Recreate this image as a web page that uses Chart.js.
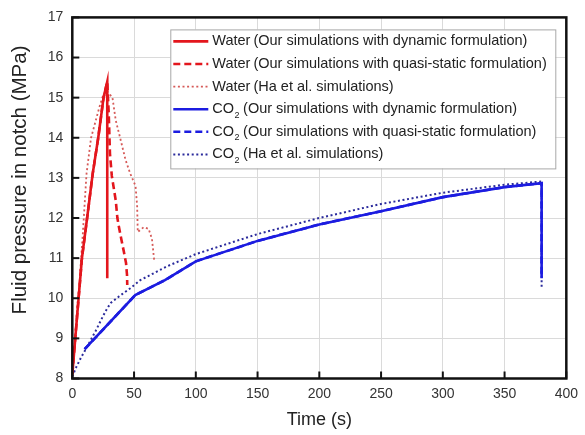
<!DOCTYPE html>
<html>
<head>
<meta charset="utf-8">
<script src="https://cdn.jsdelivr.net/npm/chart.js@4.4.1/dist/chart.umd.min.js"></script>
<style>
  html, body { margin: 0; padding: 0; background: #fff; }
</style>
</head>
<body>
<canvas id="chart" width="585" height="435"></canvas>
<script>
// Fluid pressure in notch vs time — water and CO2 cases

const xTicks = [0, 50, 100, 150, 200, 250, 300, 350, 400];
const yTicks = [8, 9, 10, 11, 12, 13, 14, 15, 16, 17];

// Water, our simulations (dynamic)
const waterDynTime = [0, 2.4, 5.1, 7.8, 12, 16.5, 21, 25.3, 28.3, 28.3];
const waterDynP = [8.1, 9.0, 10.0, 11.0, 12.0, 13.1, 14.0, 15.0, 15.4, 10.5];

// Water, our simulations (quasi-static): same rise, slower drop
const waterQsTime = [0, 2.4, 5.1, 7.8, 12, 16.5, 21, 25.3, 28.3, 29.5, 30.5, 32, 35.2, 36.5, 37.8, 39.7, 41.8, 43.5, 44.3, 44.5];
const waterQsP = [8.1, 9.0, 10.0, 11.0, 12.0, 13.1, 14.0, 15.0, 15.4, 14.6, 13.6, 13.05, 12.43, 12.0, 11.77, 11.47, 11.15, 10.88, 10.58, 10.33];

// Water, Ha et al.
const waterHaTime = [0, 2, 4, 5.9, 6.7, 8.5, 9.9, 11.5, 15.2, 21.9, 25.3, 28, 32.5, 35.2, 39.2, 43.1, 47, 51.2, 52.5, 53, 57.8, 61.8, 64.5, 66.3];
const waterHaP = [8.05, 8.9, 9.8, 10.4, 10.8, 11.6, 12.3, 13.1, 14.0, 14.76, 15.09, 15.17, 15.0, 14.43, 13.94, 13.45, 13.1, 12.8, 12.3, 11.65, 11.77, 11.73, 11.48, 10.95];

// CO2, our simulations (dynamic and quasi-static overlap)
const co2DynTime = [10, 51, 75, 100, 150, 200, 250, 300, 350, 380, 380];
const co2DynP = [8.73, 10.08, 10.45, 10.92, 11.43, 11.84, 12.17, 12.52, 12.77, 12.87, 10.5];
const co2QsTime = co2DynTime;
const co2QsP = co2DynP;

// CO2, Ha et al.
const co2HaTime = [0, 3, 7, 12.5, 19, 23, 27, 31, 38, 47, 55, 77, 100, 150, 200, 250, 300, 350, 380, 380];
const co2HaP = [8.05, 8.27, 8.52, 8.82, 9.19, 9.44, 9.68, 9.88, 10.05, 10.25, 10.45, 10.8, 11.1, 11.6, 12.0, 12.35, 12.63, 12.83, 12.91, 10.22];

const fluids = ['Water', 'Water', 'Water', 'CO2', 'CO2', 'CO2'];
const descs = [
    '(Our simulations with dynamic formulation)',
    '(Our simulations with quasi-static formulation)',
    '(Ha et al. simulations)',
    '(Our simulations with dynamic formulation)',
    '(Our simulations with quasi-static formulation)',
    '(Ha et al. simulations)'
];
const yTitle = 'Fluid pressure in notch (MPa)';

const RED = '#e3161d';
const RED_DOT = '#d65a58';
const BLUE = '#1c1ce0';
const BLUE_DOT = '#2b2b9c';
const FONT = '"Liberation Sans", Arial, sans-serif';

function pts(t, p) {
    return t.map((x, i) => ({ x: x, y: p[i] }));
}

function series(i, t, p, color, dash, width) {
    return {
        label: fluids[i].replace('CO2', 'CO₂') + ' ' + descs[i],
        data: pts(t, p),
        borderColor: color,
        backgroundColor: color,
        borderWidth: width,
        borderDash: dash,
        pointRadius: 0,
        tension: 0,
        fill: false
    };
}

const datasets = [
    series(0, waterDynTime, waterDynP, RED, [], 2.6),
    series(1, waterQsTime, waterQsP, RED, [7, 4], 2.6),
    series(2, waterHaTime, waterHaP, RED_DOT, [2, 2.6], 1.8),
    series(3, co2DynTime, co2DynP, BLUE, [], 2.6),
    series(4, co2QsTime, co2QsP, BLUE, [7, 4], 2.6),
    series(5, co2HaTime, co2HaP, BLUE_DOT, [2, 2.6], 2)
];

// black box around the plot with inward tick marks
const framePlugin = {
    id: 'frame',
    afterDatasetsDraw(chart) {
        const { ctx, chartArea: a, scales } = chart;
        ctx.save();
        ctx.strokeStyle = '#111';
        ctx.lineWidth = 2;
        scales.x.ticks.forEach(t => {
            const px = scales.x.getPixelForValue(t.value);
            ctx.beginPath();
            ctx.moveTo(px, a.bottom);
            ctx.lineTo(px, a.bottom - 7);
            ctx.stroke();
        });
        scales.y.ticks.forEach(t => {
            const py = scales.y.getPixelForValue(t.value);
            ctx.beginPath();
            ctx.moveTo(a.left, py);
            ctx.lineTo(a.left + 7, py);
            ctx.stroke();
        });
        ctx.lineWidth = 2.5;
        ctx.strokeRect(a.left, a.top, a.right - a.left, a.bottom - a.top);
        ctx.restore();
    }
};

// y title sits a bit above the axis middle in the original
const yTitlePlugin = {
    id: 'yTitle',
    afterDraw(chart) {
        const { ctx, chartArea: a } = chart;
        ctx.save();
        ctx.translate(20, (a.top + a.bottom) / 2 - 18);
        ctx.rotate(-Math.PI / 2);
        ctx.font = '20.5px ' + FONT;
        ctx.fillStyle = '#222';
        ctx.textAlign = 'center';
        ctx.textBaseline = 'middle';
        ctx.fillText(yTitle, 0, 0);
        ctx.restore();
    }
};

// boxed legend inside the plot, with subscript for CO2
const legendPlugin = {
    id: 'boxLegend',
    afterDraw(chart) {
        const { ctx, chartArea: a } = chart;
        const left = a.left + 98, top = a.top + 12;
        const w = 385, h = 139, rowH = 22.6;
        ctx.save();
        ctx.fillStyle = '#fff';
        ctx.fillRect(left, top, w, h);
        ctx.strokeStyle = '#a8a8a8';
        ctx.lineWidth = 1;
        ctx.strokeRect(left + 0.5, top + 0.5, w, h);
        chart.data.datasets.forEach((ds, i) => {
            const y = top + 12 + i * rowH;
            ctx.strokeStyle = ds.borderColor;
            ctx.lineWidth = ds.borderWidth;
            ctx.setLineDash(ds.borderDash);
            ctx.beginPath();
            ctx.moveTo(left + 3, y);
            ctx.lineTo(left + 38, y);
            ctx.stroke();
            ctx.setLineDash([]);

            let x = left + 42;
            ctx.fillStyle = '#222';
            ctx.textBaseline = 'middle';
            ctx.font = '14.5px ' + FONT;
            if (fluids[i] === 'CO2') {
                ctx.fillText('CO', x, y);
                x += ctx.measureText('CO').width;
                ctx.font = '9px ' + FONT;
                ctx.fillText('2', x + 0.5, y + 6);
                x += ctx.measureText('2').width + 4;
                ctx.font = '14.5px ' + FONT;
            } else {
                ctx.fillText(fluids[i], x, y);
                x += ctx.measureText(fluids[i]).width + 3;
            }
            ctx.fillText(descs[i], x, y);
        });
        ctx.restore();
    }
};

Chart.defaults.font.family = FONT;

new Chart(document.getElementById('chart'), {
    type: 'line',
    data: { datasets: datasets },
    options: {
        responsive: false,
        animation: false,
        layout: { padding: { top: 12, right: 12, left: 0, bottom: 0 } },
        plugins: {
            legend: { display: false },
            tooltip: { enabled: false }
        },
        scales: {
            x: {
                type: 'linear',
                min: 0,
                max: 400,
                afterBuildTicks: s => { s.ticks = xTicks.map(v => ({ value: v })); },
                afterFit: s => { s.height = 56.5; },
                grid: { color: '#dadada', lineWidth: 1, drawTicks: false },
                border: { display: false },
                ticks: { color: '#333', font: { size: 14 }, padding: 7, maxRotation: 0 },
                title: {
                    display: true,
                    text: 'Time (s)',
                    color: '#222',
                    font: { size: 18 },
                    padding: { top: 4, bottom: 4 }
                }
            },
            y: {
                type: 'linear',
                min: 8,
                max: 17,
                afterBuildTicks: s => { s.ticks = yTicks.map(v => ({ value: v })); },
                afterFit: s => { s.width = 72.3; },
                grid: { color: '#dadada', lineWidth: 1, drawTicks: false },
                border: { display: false },
                ticks: { color: '#333', font: { size: 14 }, padding: 9 }
            }
        }
    },
    plugins: [framePlugin, yTitlePlugin, legendPlugin]
});
</script>
</body>
</html>
